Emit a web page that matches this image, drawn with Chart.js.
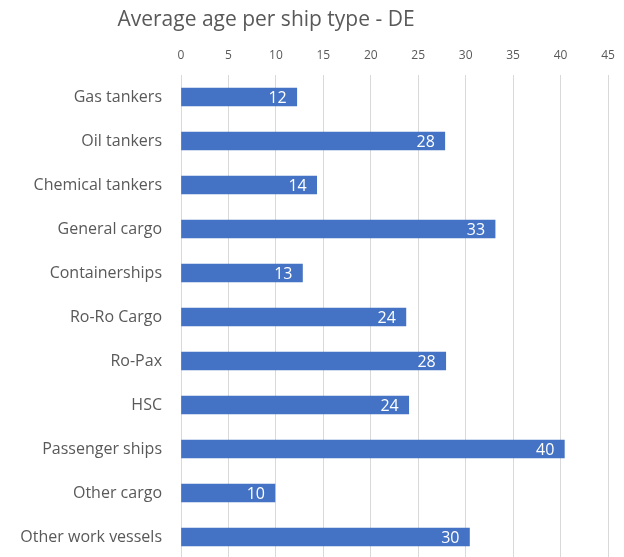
<!DOCTYPE html>
<html>
<head>
<meta charset="utf-8">
<script src="https://cdn.jsdelivr.net/npm/chart.js@4/dist/chart.umd.min.js"></script>
<style>
html,body{margin:0;padding:0;background:#fff;overflow:hidden;}
#wrap{position:relative;width:624px;height:559px;}
</style>
</head>
<body>
<div id="wrap"><canvas id="c" width="624" height="559"></canvas></div>
<script>
const titleText = "Average age per ship type - DE";
const categories = ["Gas tankers","Oil tankers","Chemical tankers","General cargo","Containerships","Ro-Ro Cargo","Ro-Pax","HSC","Passenger ships","Other cargo","Other work vessels"];
const averageAge = [12.2, 27.8, 14.3, 33.1, 12.8, 23.7, 27.9, 24.0, 40.4, 9.9, 30.4];
const xTicks = [0,5,10,15,20,25,30,35,40,45];

const FONT = "'Open Sans', 'Noto Sans', sans-serif";
const TOP_SPACE = 40;

const titlePlugin = {
  id: 'customTitle',
  afterDraw(chart) {
    const ctx = chart.ctx;
    ctx.save();
    ctx.fillStyle = '#595959';
    ctx.font = "21px " + FONT;
    ctx.textAlign = 'center';
    ctx.textBaseline = 'middle';
    ctx.fillText(titleText, 266, 20);
    ctx.restore();
  }
};

const labelPlugin = {
  id: 'barLabels',
  afterDatasetsDraw(chart) {
    const ctx = chart.ctx;
    const meta = chart.getDatasetMeta(0);
    ctx.save();
    ctx.fillStyle = '#ffffff';
    ctx.font = "16px " + FONT;
    ctx.textAlign = 'right';
    ctx.textBaseline = 'middle';
    meta.data.forEach((el, i) => {
      const v = chart.data.datasets[0].data[i];
      ctx.fillText(String(Math.round(v)), el.x - 10, el.y + 1);
    });
    ctx.restore();
  }
};

new Chart(document.getElementById('c'), {
  type: 'bar',
  data: {
    labels: categories,
    datasets: [{
      data: averageAge,
      backgroundColor: '#4472C4',
      borderWidth: 0,
      barThickness: 18
    }]
  },
  options: {
    indexAxis: 'y',
    responsive: false,
    animation: false,
    devicePixelRatio: 1,
    layout: { padding: { left: 0, right: 16, top: TOP_SPACE, bottom: 0 } },
    plugins: {
      legend: { display: false },
      tooltip: { enabled: false },
      title: { display: false }
    },
    scales: {
      x: {
        position: 'top',
        min: 0,
        max: 45,
        afterBuildTicks(s) { s.ticks = xTicks.map(v => ({ value: v })); },
        afterFit(s) { s.height = 75 - TOP_SPACE; s.paddingLeft = 0; s.paddingRight = 0; },
        grid: { color: '#d9d9d9', lineWidth: 1, drawTicks: false },
        border: { display: false },
        ticks: { color: '#595959', font: { family: FONT, size: 12 }, padding: 12 }
      },
      y: {
        afterFit(s) { s.width = 181; s.paddingTop = 0; s.paddingBottom = 0; },
        grid: { display: false, drawTicks: false },
        border: { display: false },
        ticks: { color: '#595959', font: { family: FONT, size: 16 }, padding: 19 }
      }
    }
  },
  plugins: [labelPlugin, titlePlugin]
});
</script>
</body>
</html>
